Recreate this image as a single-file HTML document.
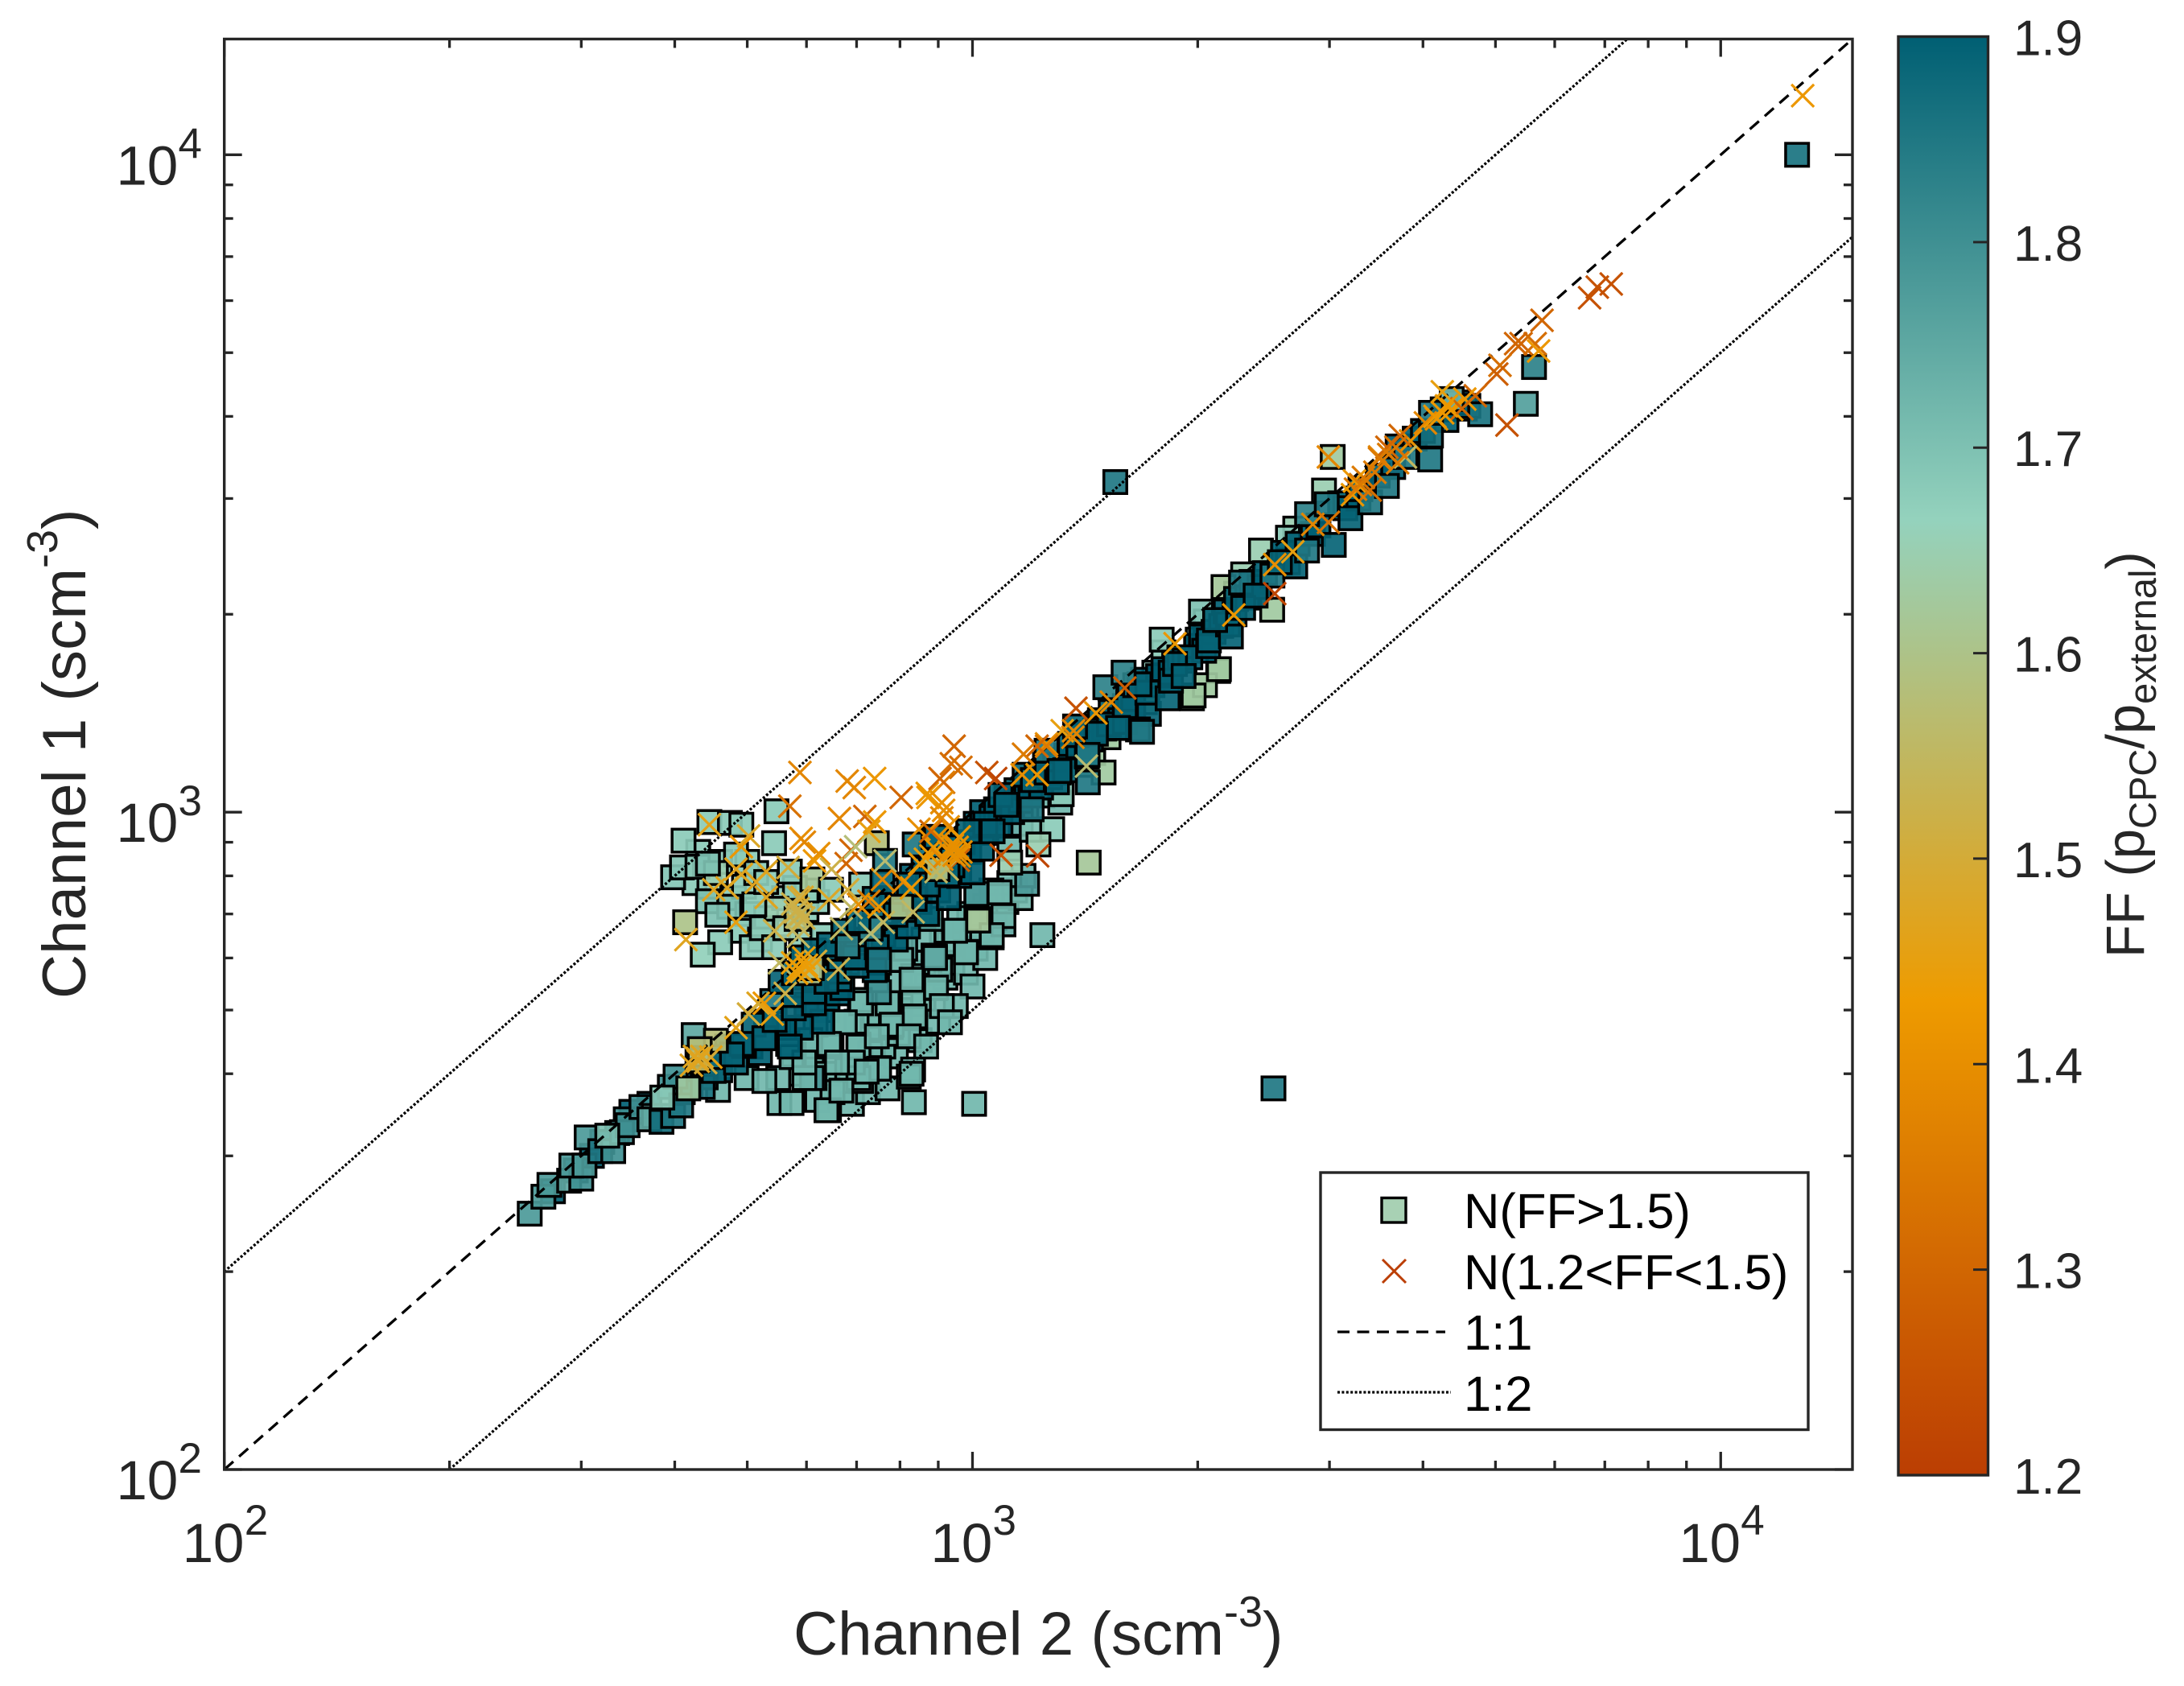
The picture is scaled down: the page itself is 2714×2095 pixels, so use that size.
<!DOCTYPE html>
<html lang="en">
<head>
<meta charset="utf-8">
<title>Channel 1 vs Channel 2 scatter</title>
<style>
html,body{margin:0;padding:0;background:#fff;}
svg{display:block;}
text{font-family:"Liberation Sans",Arial,sans-serif;fill:#262626;}
</style>
</head>
<body>
<svg id="chart" xmlns="http://www.w3.org/2000/svg" width="2714" height="2095" viewBox="0 0 2714 2095">
  <defs>
    <clipPath id="plot-clip"><rect x="278.7" y="48.5" width="2023.3" height="1777.5"/></clipPath>
    <linearGradient id="ff-gradient" x1="0" y1="0" x2="0" y2="1">
      <stop offset="0" stop-color="#005f73"/>
      <stop offset="0.3357" stop-color="#94d2bd"/>
      <stop offset="0.67" stop-color="#ee9b00"/>
      <stop offset="1" stop-color="#bb3e03"/>
    </linearGradient>
  </defs>
  <rect x="0" y="0" width="2714" height="2095" fill="#ffffff"/>
  <g id="squares" clip-path="url(#plot-clip)"></g>
  <g id="lines" clip-path="url(#plot-clip)"></g>
  <g id="crosses" clip-path="url(#plot-clip)"></g>
  <g id="ticks"></g>
  <rect x="278.7" y="48.5" width="2023.3" height="1777.5" fill="none" stroke="#262626" stroke-width="3.4"/>

  <g id="x-tick-labels"></g>
  <g id="y-tick-labels"></g>

  <text x="986" y="2056" font-size="76.4">Channel 2 (scm<tspan dy="-35" font-size="54">-3</tspan><tspan dy="35">)</tspan></text>
  <text transform="translate(106,1241) rotate(-90)" font-size="76.4">Channel 1 (scm<tspan dy="-35" font-size="54">-3</tspan><tspan dy="35">)</tspan></text>

  <g>
    <rect x="2359" y="45.5" width="111.5" height="1787.5" fill="url(#ff-gradient)" stroke="#262626" stroke-width="3.4"/>
    <g id="colorbar-ticks"></g>
  </g>
  <text transform="translate(2664,1190) rotate(-90)" font-size="67">FF (p<tspan dy="15" font-size="47">CPC</tspan><tspan dy="-15">/p</tspan><tspan dy="15" font-size="47">external</tspan><tspan dy="-15">)</tspan></text>

  <g>
    <rect x="1641" y="1457" width="606" height="319.5" fill="#ffffff" stroke="#262626" stroke-width="3.4"/>
    <rect x="1717" y="1488.5" width="30" height="30.5" fill="#a8d1b4" stroke="#000000" stroke-width="3.4"/>
    <path d="M1718 1565 L1747 1594 M1747 1565 L1718 1594" stroke="#bb3e03" stroke-width="3" fill="none"/>
    <line x1="1662" y1="1655" x2="1796" y2="1655" stroke="#000" stroke-width="3.3" stroke-dasharray="15 9.5"/>
    <line x1="1662" y1="1730" x2="1803" y2="1730" stroke="#000" stroke-width="3.3" stroke-dasharray="3 2.4"/>
    <text x="1819" y="1526" font-size="61.5" style="fill:#000">N(FF&gt;1.5)</text>
    <text x="1819" y="1602" font-size="61.5" style="fill:#000">N(1.2&lt;FF&lt;1.5)</text>
    <text x="1819" y="1677" font-size="61.5" style="fill:#000">1:1</text>
    <text x="1819" y="1753" font-size="61.5" style="fill:#000">1:2</text>
  </g>
</svg>
<script>
var underBandChannel2 = [1400,1450,1520,1560,1610,1700,1750,1800,1860,2000,2050,2250,2300,2700,1180,1240,1120,1160,1200];
var underBandChannel1 = [1180,1230,1300,1390,1410,1470,1630,1750,1700,1830,1950,2150,2300,2700,1020,1060,880,960,940];
var underBandFF = [1.63,1.63,1.63,1.63,1.65,1.63,1.68,1.68,1.63,1.68,1.68,1.63,1.65,1.65,1.72,1.72,1.72,1.75,1.7];

var lowerFillChannel2 = [590,620,690,725,770,790,760,735,740,800,860,850,900,920,870,800,745,700,640,610,640,680,730,795,860,940,980,1010,1040,930,1000,1030,1070,1110,1140,1170,1040,990,960,910,860,1120,1160,1060];
var lowerFillChannel1 = [400,365,360,375,380,425,440,470,490,500,510,450,480,560,570,550,555,480,500,420,400,405,430,460,590,590,570,620,600,630,650,660,690,730,760,800,720,700,690,660,640,780,740,760];
var lowerFillFF = 1.72;

var lightFillChannel2 = [425,445,480,495,500,530,490,520,560,600,620,590,630,430,460,500,600];
var lightFillChannel1 = [780,770,740,770,700,690,660,640,740,710,730,640,650,870,840,840,760];
var lightFillFF = 1.68;

var bandFillChannel2 = [1010,1030,1040,1060,1075,1090,1110,1130,1145,1160,1180,1195,1215,1235,1250,1270,1290,1310,1335,1350,1385,1400,1440,1480,1500,1530,1575,1620,1640,1690,1740,1770,1800,1840,1890,1920,1990,2020,2040,2100,2150,2180,2240,2250,2330,2360,2420,2460,2600,2640,2720,2850,2900,3100,3150,3280,3300,3480,3650,3700,3900,4000,4250,4300,4450,4600,
600,625,650,680,740,760,790,820,850,870,900,930,960,990,1000,640,660,670,600,630,590,560,530,570,700,740,780,810,830,860,880,940,970,1030,1040,470,505,520,460,440,420,410,370,350,335,320,310,275,295];
var bandFillChannel1 = [960,1000,930,980,1010,960,1050,1000,1080,1040,1090,1060,1120,1090,1180,1130,1200,1180,1220,1270,1260,1320,1290,1380,1340,1420,1380,1500,1450,1590,1560,1610,1650,1630,1720,1700,1790,1850,1760,1880,1920,2020,2000,2110,2120,2240,2200,2310,2480,2400,2560,2650,2730,2950,2900,3000,3100,3250,3350,3600,3700,3800,4100,3950,4200,4150,
560,590,610,590,575,650,640,670,730,700,760,740,800,870,810,520,530,540,510,480,470,470,480,440,640,690,740,710,800,820,860,830,900,880,960,440,440,430,405,395,385,375,360,350,325,315,300,265,285];
var bandFillFF = 1.9;
var bandFillInsertIndex = 140;

var squareChannel2 = [
1240,1000,950,891,833,822,835,1005,750,710,
650,643,615,704,646,778,833,672,772,707,
833,905,807,833,891,980,945,1061,1100,880,
1012,1087,610,813,803,750,887,829,770,710,
837,780,704,648,675,750,829,704,617,577,
894,910,499,550,552,573,567,573,607,643,
610,638,527,457,692,745,822,867,933,722,
668,596,596,659,750,658,1100,1012,1061,980,
948,891,1087,1012,1183,1310,1278,1225,1123,1430,
445,411,474,491,547,543,483,398,409,429,
454,443,514,443,473,456,413,460,436,507,
523,543,579,570,611,547,511,647,710,530,
562,582,745,596,1316,1497,2130,1965,2045,1790,
2020,1975,2135,2165,2515,2430,2640,2950,3030,4550,
4370,256,267,272,289,300,291,303,305,318,
331,344,340,346,361,375,370,384,398,394,
401,408,436,451,454,424,483,495,530,540,
510,491,527,477,544,577,577,614,554,614,
664,577,664,638,591,614,643,672,700,696,
745,750,681,731,704,740,764,837,887,789,
837,872,822,758,910,926,940,894,987,1064,
1090,1109,1200,1174,1204,1256,1304,1297,1256,1330,
1426,1422,1458,1563,1378,1522,1598,1721,1598,1664,
1505,1650,1713,1823,1842,1955,2065,1865,1672,1592,
1565,1462,1371,1685,1425,1307,2070,2195,2300,2285,
2517,2700,2800,3040,2800,3200,2975,3400,3580,3790,
4090,4100,4100,4770,5490,5630,1552,12650,2525,2390,
2575,1915,2215,2110,803,898,605,1018,610,325,
385,417,429,454,432];
var squareChannel1 = [
650,543,507,540,406,396,362,360,408,390,
375,352,394,443,443,471,486,479,512,518,
525,576,596,563,603,613,660,645,675,688,
745,745,440,620,596,590,605,556,512,512,
489,475,440,440,479,407,400,394,475,428,
541,507,394,394,361,361,444,424,450,444,
394,352,390,378,416,456,456,440,479,403,
377,394,416,416,532,540,695,688,650,612,
660,600,755,751,778,1034,942,893,838,838,
966,905,963,957,1003,897,862,796,824,826,
808,835,808,732,718,698,680,634,607,623,
666,623,767,812,790,713,724,762,776,783,
666,688,897,601,1065,1149,1640,1490,1560,1830,
2019,1505,1650,2200,2032,2500,2615,3085,3470,4110,
4250,245,260,271,275,277,290,290,320,305,
305,341,326,334,356,345,341,338,345,382,
396,358,382,404,424,458,416,441,453,516,
475,444,453,428,483,503,527,512,552,533,
557,569,572,552,601,616,629,660,584,601,
623,596,625,665,683,738,843,893,917,698,
738,776,776,783,848,804,884,917,935,935,
1062,1026,1010,1140,1119,1149,1149,1110,1240,1158,
1110,1215,1330,1343,1310,1360,1372,1411,1450,1336,
1549,1560,1520,1490,1585,1720,1789,1680,1565,1630,
1343,1316,1350,1325,1222,1155,1825,1930,2045,2235,
2290,2365,2500,2550,2840,2800,2940,2960,3135,3470,
3440,3740,4050,4030,4180,4755,3178,10000,380,2135,
2400,1611,1850,1960,718,819,569,684,579,322,
368,380,419,449,436];
var squareFF = [
1.72,1.72,1.72,1.72,1.72,1.72,1.72,1.72,1.72,1.72,
1.72,1.72,1.78,1.72,1.72,1.72,1.72,1.72,1.72,1.72,
1.72,1.72,1.72,1.72,1.75,1.75,1.75,1.75,1.75,1.75,
1.78,1.72,1.72,1.75,1.72,1.72,1.72,1.72,1.72,1.72,
1.72,1.72,1.72,1.72,1.72,1.72,1.72,1.72,1.72,1.72,
1.72,1.72,1.72,1.72,1.72,1.72,1.72,1.72,1.72,1.72,
1.78,1.72,1.72,1.72,1.72,1.72,1.72,1.72,1.72,1.72,
1.72,1.72,1.72,1.72,1.8,1.85,1.72,1.65,1.72,1.72,
1.72,1.75,1.72,1.78,1.78,1.72,1.68,1.65,1.65,1.62,
1.68,1.68,1.68,1.68,1.68,1.68,1.68,1.69,1.69,1.68,
1.65,1.7,1.68,1.7,1.7,1.7,1.6,1.68,1.67,1.68,
1.68,1.68,1.68,1.68,1.62,1.65,1.68,1.68,1.68,1.68,
1.65,1.6,1.58,1.65,1.68,1.63,1.63,1.63,1.63,1.68,
1.7,1.63,1.63,1.62,1.63,1.65,1.68,1.65,1.63,1.68,
1.72,1.78,1.78,1.78,1.75,1.8,1.78,1.78,1.78,1.85,
1.8,1.8,1.8,1.8,1.8,1.72,1.75,1.87,1.85,1.8,
1.8,1.85,1.85,1.88,1.88,1.75,1.88,1.88,1.85,1.85,
1.89,1.89,1.89,1.89,1.89,1.89,1.89,1.89,1.89,1.89,
1.89,1.89,1.89,1.89,1.89,1.89,1.89,1.89,1.89,1.89,
1.89,1.85,1.83,1.83,1.89,1.89,1.85,1.85,1.89,1.89,
1.89,1.89,1.89,1.89,1.89,1.89,1.89,1.89,1.89,1.89,
1.89,1.89,1.85,1.89,1.89,1.89,1.89,1.89,1.85,1.89,
1.85,1.85,1.89,1.89,1.89,1.89,1.89,1.89,1.89,1.85,
1.83,1.87,1.89,1.89,1.89,1.89,1.89,1.89,1.89,1.83,
1.89,1.89,1.89,1.85,1.85,1.89,1.89,1.89,1.89,1.85,
1.85,1.89,1.85,1.89,1.83,1.89,1.85,1.85,1.85,1.85,
1.85,1.87,1.85,1.86,1.77,1.83,1.85,1.86,1.85,1.89,
1.89,1.89,1.89,1.89,1.6,1.6,1.6,1.62,1.6,1.7,
1.68,1.63,1.55,1.58,1.58];

var crossChannel2 = [
6680,6840,7140,12870,5770,5410,5650,5320,5710,5070,
5020,5180,4700,4245,4550,4370,4510,4170,4030,3850,
3730,3790,3500,3680,3580,3450,3330,3400,3220,3240,
2990,2850,2990,2680,2535,2535,2235,1865,1598,1533,
1375,1462,1420,1318,1362,1256,1365,1256,1220,1170,
1220,1165,1045,1074,945,937,965,915,1092,1222,
957,925,872,910,915,928,960,954,910,960,
887,865,588,680,695,740,803,870,905,570,
664,718,740,590,596,727,848,880,910,688,
623,698,678,648,615,502,491,445,483,491,
567,530,514,470,451,530,585,592,643,681,
582,585,483,414,544,585,668,688,731,760,
833,727,750,704,758,764,808,829,850,880,
910,894,552,585,617,662,562,527,517,540,
483,502,429,447,421,440,582,591,
585,590,580,595,575,600,605,575,595,430,435,425,950,965,940,930,945,3500,3600,3700,3300,3250,4150,4250,4300];
var crossChannel1 = [
6060,6290,6360,12300,5600,5160,5160,5160,5030,4785,
4640,3880,4300,4360,4250,4100,4110,3965,3910,3670,
3740,3470,3470,3590,3590,3290,3230,3090,3040,3190,
3470,2740,2760,2490,2380,2150,1995,1804,1545,1470,
1439,1415,1175,1330,1300,1270,1330,1260,1260,1225,
1140,1140,1149,1125,1260,1185,1170,1110,860,858,
845,819,1053,1034,1006,950,917,884,910,858,
884,848,1149,1115,1090,1125,1053,1068,1125,1021,
978,985,966,912,900,935,942,935,980,875,
865,886,835,819,843,920,886,957,819,804,
824,812,783,767,762,742,742,742,736,762,
693,673,680,640,660,647,665,716,654,680,
705,732,718,724,790,843,783,767,835,858,
848,812,590,579,593,577,530,512,512,493,
470,493,422,424,412,416,569,573,
713,700,705,690,725,585,575,590,600,418,425,425,880,870,890,870,860,3450,3500,3400,3150,3100,4000,4050,4150];
var crossFF = [
1.25,1.25,1.25,1.42,1.3,1.3,1.32,1.3,1.42,1.32,
1.28,1.25,1.3,1.45,1.42,1.42,1.3,1.4,1.38,1.4,
1.3,1.55,1.38,1.33,1.3,1.35,1.35,1.32,1.42,1.42,
1.38,1.38,1.33,1.45,1.4,1.22,1.42,1.42,1.28,1.38,
1.25,1.42,1.57,1.45,1.38,1.4,1.38,1.35,1.3,1.35,
1.42,1.4,1.25,1.22,1.3,1.32,1.32,1.35,1.25,1.22,
1.28,1.55,1.42,1.4,1.4,1.4,1.42,1.4,1.4,1.4,
1.42,1.45,1.38,1.38,1.38,1.42,1.3,1.42,1.3,1.33,
1.38,1.3,1.42,1.4,1.38,1.45,1.4,1.3,1.38,1.3,
1.4,1.58,1.3,1.52,1.42,1.48,1.42,1.46,1.46,1.47,
1.5,1.47,1.47,1.47,1.47,1.47,1.5,1.48,1.48,1.5,
1.55,1.53,1.45,1.47,1.52,1.55,1.55,1.55,1.58,1.55,
1.55,1.35,1.42,1.4,1.38,1.57,1.38,1.42,1.42,1.42,
1.38,1.55,1.55,1.43,1.5,1.53,1.52,1.42,1.47,1.45,
1.46,1.5,1.47,1.45,1.47,1.5,1.44,1.45,
1.52,1.52,1.52,1.52,1.52,1.44,1.44,1.44,1.44,1.47,1.47,1.47,1.4,1.4,1.4,1.4,1.4,1.35,1.35,1.35,1.35,1.35,1.42,1.42,1.42];

var referenceLineStartX = [100, 100, 200];
var referenceLineStartY = [100, 200, 100];
var referenceLineEndX = [15000, 7500, 15000];
var referenceLineEndY = [15000, 15000, 7500];
var referenceLineNames = ['one-to-one-line', 'two-to-one-line', 'one-to-two-line'];
var referenceLineDashes = ['15 9.5', '3 2.4', '3 2.4'];

var axisMin = 100;
var axisMax = 15000;
var majorTicks = [100, 1000, 10000];
var minorTicks = [200, 300, 400, 500, 600, 700, 800, 900, 2000, 3000, 4000, 5000, 6000, 7000, 8000, 9000];
var tickExponents = ['2', '3', '4'];
var colorbarTicks = [1.9, 1.8, 1.7, 1.6, 1.5, 1.4, 1.3, 1.2];
var colormapValues = [1.9, 1.665, 1.431, 1.2];
var colormapReds = [0, 148, 238, 187];
var colormapGreens = [95, 210, 155, 62];
var colormapBlues = [115, 189, 0, 3];

var NS = 'http://www.w3.org/2000/svg';
var plotLeft = 278.7, plotRight = 2302, plotTop = 48.5, plotBottom = 1826;

function xScale(v) {
  return plotLeft + (Math.log10(v) - Math.log10(axisMin)) / (Math.log10(axisMax) - Math.log10(axisMin)) * (plotRight - plotLeft);
}
function yScale(v) {
  return plotBottom - (Math.log10(v) - Math.log10(axisMin)) / (Math.log10(axisMax) - Math.log10(axisMin)) * (plotBottom - plotTop);
}
function colorbarScale(v) {
  return 45.5 + (1.9 - v) / 0.7 * 1787.5;
}
function ffColor(f) {
  var i = 0;
  while (i < colormapValues.length - 2 && f < colormapValues[i + 1]) { i++; }
  var t = (colormapValues[i] - f) / (colormapValues[i] - colormapValues[i + 1]);
  t = Math.max(0, Math.min(1, t));
  var r = Math.round(colormapReds[i] + t * (colormapReds[i + 1] - colormapReds[i]));
  var g = Math.round(colormapGreens[i] + t * (colormapGreens[i + 1] - colormapGreens[i]));
  var b = Math.round(colormapBlues[i] + t * (colormapBlues[i + 1] - colormapBlues[i]));
  return 'rgb(' + r + ',' + g + ',' + b + ')';
}
function tickLine(parent, x1, y1, x2, y2, width) {
  var l = document.createElementNS(NS, 'line');
  l.setAttribute('x1', x1);
  l.setAttribute('y1', y1);
  l.setAttribute('x2', x2);
  l.setAttribute('y2', y2);
  l.setAttribute('stroke', '#262626');
  l.setAttribute('stroke-width', width);
  
  
  parent.appendChild(l);
}
function label(parent, x, y, size, content) {
  var t = document.createElementNS(NS, 'text');
  t.setAttribute('x', x);
  t.setAttribute('y', y);
  t.setAttribute('font-size', size);
  
  
  t.textContent = content;
  parent.appendChild(t);
}

var squareLayer = document.getElementById('squares');
function drawSquare(channel2, channel1, ff) {
  var sq = document.createElementNS(NS, 'rect');
  sq.setAttribute('x', xScale(channel2) - 14.25);
  sq.setAttribute('y', yScale(channel1) - 14.25);
  sq.setAttribute('width', 28.5);
  sq.setAttribute('height', 28.5);
  sq.setAttribute('fill', ffColor(ff));
  sq.setAttribute('fill-opacity', '0.92');
  sq.setAttribute('stroke', '#000');
  sq.setAttribute('stroke-width', '3.5');
  
  
  squareLayer.appendChild(sq);
}
lowerFillChannel2.forEach(function (v, i) { drawSquare(v, lowerFillChannel1[i], lowerFillFF); });
lightFillChannel2.forEach(function (v, i) { drawSquare(v, lightFillChannel1[i], lightFillFF); });
underBandChannel2.forEach(function (v, i) { drawSquare(v, underBandChannel1[i], underBandFF[i]); });
var squareCount = Math.min(squareChannel2.length, squareChannel1.length, squareFF.length);
for (var i = 0; i < squareCount; i++) {
  if (i === bandFillInsertIndex) {
    bandFillChannel2.forEach(function (v, n) { drawSquare(v, bandFillChannel1[n], bandFillFF); });
  }
  drawSquare(squareChannel2[i], squareChannel1[i], squareFF[i]);
}

var lineLayer = document.getElementById('lines');
for (var j = 0; j < referenceLineNames.length; j++) {
  var ln = document.createElementNS(NS, 'line');
  ln.setAttribute('x1', xScale(referenceLineStartX[j]));
  ln.setAttribute('y1', yScale(referenceLineStartY[j]));
  ln.setAttribute('x2', xScale(referenceLineEndX[j]));
  ln.setAttribute('y2', yScale(referenceLineEndY[j]));
  ln.setAttribute('stroke', '#000');
  ln.setAttribute('stroke-width', '3.3');
  ln.setAttribute('stroke-dasharray', referenceLineDashes[j]);
  
  
  lineLayer.appendChild(ln);
}

var crossLayer = document.getElementById('crosses');
var crossCount = Math.min(crossChannel2.length, crossChannel1.length, crossFF.length);
for (var k = 0; k < crossCount; k++) {
  var cx = xScale(crossChannel2[k]);
  var cy = yScale(crossChannel1[k]);
  var cr = document.createElementNS(NS, 'path');
  cr.setAttribute('d', 'M' + (cx - 14) + ' ' + (cy - 14) + 'L' + (cx + 14) + ' ' + (cy + 14) + 'M' + (cx + 14) + ' ' + (cy - 14) + 'L' + (cx - 14) + ' ' + (cy + 14));
  cr.setAttribute('stroke', ffColor(crossFF[k]));
  cr.setAttribute('stroke-width', '3.2');
  cr.setAttribute('fill', 'none');
  
  
  crossLayer.appendChild(cr);
}

var tickLayer = document.getElementById('ticks');
majorTicks.forEach(function (v) {
  tickLine(tickLayer, xScale(v), plotBottom, xScale(v), plotBottom - 22, 3.3);
  tickLine(tickLayer, xScale(v), plotTop, xScale(v), plotTop + 22, 3.3);
  tickLine(tickLayer, plotLeft, yScale(v), plotLeft + 22, yScale(v), 3.3);
  tickLine(tickLayer, plotRight, yScale(v), plotRight - 22, yScale(v), 3.3);
});
minorTicks.forEach(function (v) {
  tickLine(tickLayer, xScale(v), plotBottom, xScale(v), plotBottom - 11, 3.3);
  tickLine(tickLayer, xScale(v), plotTop, xScale(v), plotTop + 11, 3.3);
  tickLine(tickLayer, plotLeft, yScale(v), plotLeft + 11, yScale(v), 3.3);
  tickLine(tickLayer, plotRight, yScale(v), plotRight - 11, yScale(v), 3.3);
});

var xLabels = document.getElementById('x-tick-labels');
var yLabels = document.getElementById('y-tick-labels');
majorTicks.forEach(function (v, idx) {
  label(xLabels, xScale(v) - 52, 1941, 69, '10');
  label(xLabels, xScale(v) + 25, 1907, 53, tickExponents[idx]);
  label(yLabels, 144.5, yScale(v) + 37, 69, '10');
  label(yLabels, 221.5, yScale(v) + 4, 53, tickExponents[idx]);
});

var cbTicks = document.getElementById('colorbar-ticks');
colorbarTicks.forEach(function (v) {
  if (v < 1.9 && v > 1.2) {
    tickLine(cbTicks, 2452, colorbarScale(v), 2470, colorbarScale(v), 3);
  }
  label(cbTicks, 2502, colorbarScale(v) + 23, 62, v.toFixed(1));
});
</script>
</body>
</html>
